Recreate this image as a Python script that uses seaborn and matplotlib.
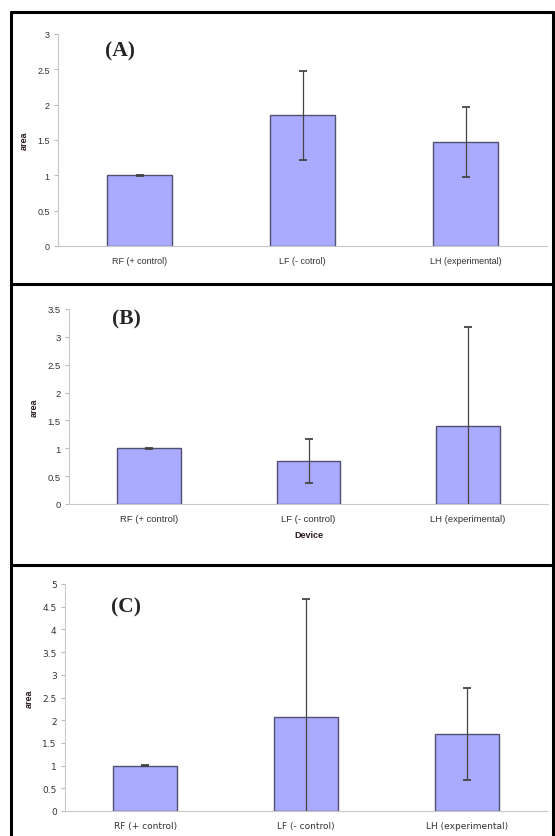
import numpy as np
import matplotlib
matplotlib.use("Agg")
import matplotlib.pyplot as plt
import pandas as pd
import seaborn as sns
from matplotlib.lines import Line2D

# Dati
labels_a = ["RF (+ control)", "LF (- cotrol)", "LH (experimental)"]
labels_b = ["RF (+ control)", "LF (- control)", "LH (experimental)"]
labels_c = ["RF (+ control)", "LF (- control)", "LH (experimental)"]

area_a = [1.0, 1.85, 1.47]
err_a = [0.01, 0.63, 0.50]

area_b = [1.0, 0.77, 1.40]
err_b = [0.01, 0.39, 1.77]

area_c = [1.0, 2.07, 1.70]
err_c = [0.01, 2.61, 1.01]

sns.set_style("white")
plt.rcParams['font.family'] = ['Liberation Sans', 'DejaVu Sans']

fig = plt.figure(figsize=(5.55, 8.37), dpi=100)
W, H = 555, 837

bar_col = "#aaaaff"
edge_col = "#505070"


def pannello(rect, labels, vals, errs, ymax, ystep, tag, tagpos, font, fs, xlabel=None):
    ax = fig.add_axes(rect)
    df = pd.DataFrame({"Device": labels, "area": vals})
    sns.barplot(data=df, x="Device", y="area", color=bar_col, width=0.4,
                edgecolor=edge_col, linewidth=1.0, saturation=1, ax=ax)
    ax.errorbar(np.arange(len(vals)), vals, yerr=errs, fmt="none",
                ecolor="#444444", elinewidth=0.9, capsize=3, capthick=1.3,
                clip_on=True)
    ax.set_xlim(-0.5, 2.5)
    ax.set_ylim(0, ymax)
    ticks = np.arange(0, ymax + 0.01, ystep)
    ax.set_yticks(ticks)
    ax.set_yticklabels([f"{v:g}" for v in ticks], fontsize=fs, family=font, color="#333333")
    ax.set_xticks(range(3))
    ax.set_xticklabels(labels, fontsize=fs, family=font, color="#333333")
    ax.set_xticks([-0.5, 0.5, 1.5, 2.5], minor=True)
    ax.tick_params(axis="x", which="major", length=0, pad=7)
    ax.tick_params(axis="x", which="minor", length=3, color="#bbbbbb", direction="out")
    ax.tick_params(axis="y", length=3, color="#bbbbbb", direction="out", pad=3, left=True)
    for s in ["top", "right"]:
        ax.spines[s].set_visible(False)
    for s in ["left", "bottom"]:
        ax.spines[s].set_color("#c8c8c8")
        ax.spines[s].set_linewidth(0.8)
    ax.set_ylabel("area", fontsize=6.5, fontweight="bold", color="#2a1a1a", labelpad=6)
    if xlabel:
        ax.set_xlabel(xlabel, fontsize=6.5, fontweight="bold", color="#2a1a1a", labelpad=5)
    else:
        ax.set_xlabel("")
    ax.text(tagpos[0], tagpos[1], tag, transform=ax.transAxes, fontsize=15.5,
            fontweight="bold", family="Liberation Serif", ha="center", va="center")
    return ax


pannello([58 / W, 1 - 247 / H, 489 / W, 212 / H], labels_a, area_a, err_a,
         3, 0.5, "(A)", (0.127, 0.92), "Liberation Sans", 6.5)
pannello([69 / W, 1 - 505 / H, 479 / W, 195 / H], labels_b, area_b, err_b,
         3.5, 0.5, "(B)", (0.12, 0.95), "Liberation Sans", 6.8, xlabel="Device")
pannello([65 / W, 1 - 812 / H, 482 / W, 227 / H], labels_c, area_c, err_c,
         5, 0.5, "(C)", (0.127, 0.90), "DejaVu Sans", 6.5)

# cornici nere dei pannelli
lw = 2.2
x0, x1 = 11 / W, 553 / W
for yp in [13, 285, 566]:
    fig.add_artist(Line2D([x0, x1], [1 - yp / H, 1 - yp / H], color="black", lw=lw))
for xp in [x0, x1]:
    fig.add_artist(Line2D([xp, xp], [1 - 13 / H, 0], color="black", lw=lw))

fig.savefig("out.png", dpi=100)
